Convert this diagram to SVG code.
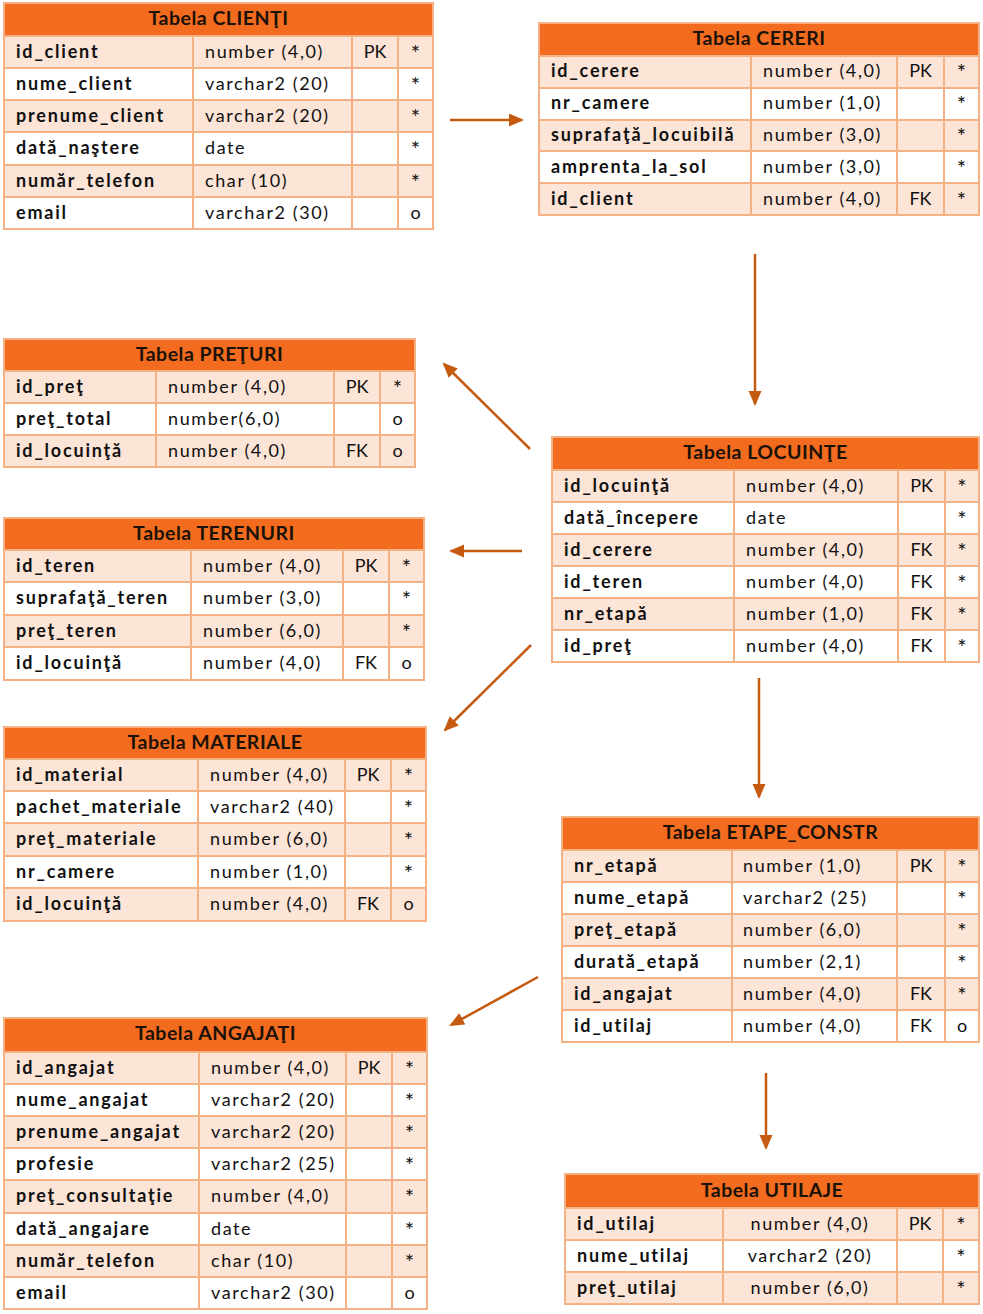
<svg xmlns="http://www.w3.org/2000/svg" width="983" height="1314" viewBox="0 0 983 1314">
<style>
.hd{fill:#F26B1F}
.o{fill:#FCE4D6}
.w{fill:#FFFFFF}
.ln{stroke:#F4B183;stroke-width:2;fill:none}
text{font-family:Lato,"Liberation Sans",sans-serif;font-size:18px;letter-spacing:1.6px;fill:#111}
.b{font-weight:bold;letter-spacing:1.8px}
.c{text-anchor:middle;letter-spacing:0}
.s{font-size:22px}
.h{font-size:19.5px;font-weight:bold;letter-spacing:0.5px;text-anchor:middle;fill:#1a1208}
.ar{stroke:#C55A11;stroke-width:2.5;fill:none;marker-end:url(#ah)}
</style>
<defs>
<marker id="ah" markerUnits="userSpaceOnUse" markerWidth="16" markerHeight="14" refX="13" refY="6.5" orient="auto">
<path d="M0,0 L15,6.5 L0,13 z" fill="#C55A11"/>
</marker>
</defs>
<rect width="983" height="1314" fill="#fff"/>

<g id="clienti">
<rect class="hd" x="4" y="3" width="429" height="33"/>
<rect class="o" x="4" y="36" width="429" height="32"/>
<rect class="w" x="4" y="68" width="429" height="32"/>
<rect class="o" x="4" y="100" width="429" height="32"/>
<rect class="w" x="4" y="132" width="429" height="33"/>
<rect class="o" x="4" y="165" width="429" height="32"/>
<rect class="w" x="4" y="197" width="429" height="32"/>
<path class="ln" d="M4,3H433V229H4Z M4,36H433 M4,68H433 M4,100H433 M4,132H433 M4,165H433 M4,197H433 M193,36V229 M352,36V229 M398,36V229"/>
<text class="h" x="218.5" y="25">Tabela CLIENŢI</text>
<text class="b" x="16" y="58">id_client</text><text x="205" y="58">number (4,0)</text><text class="c" x="375" y="58">PK</text><text class="c s" x="415.5" y="61">*</text>
<text class="b" x="16" y="90">nume_client</text><text x="205" y="90">varchar2 (20)</text><text class="c s" x="415.5" y="93">*</text>
<text class="b" x="16" y="122">prenume_client</text><text x="205" y="122">varchar2 (20)</text><text class="c s" x="415.5" y="125">*</text>
<text class="b" x="16" y="154">dată_naştere</text><text x="205" y="154">date</text><text class="c s" x="415.5" y="157">*</text>
<text class="b" x="16" y="187">număr_telefon</text><text x="205" y="187">char (10)</text><text class="c s" x="415.5" y="190">*</text>
<text class="b" x="16" y="219">email</text><text x="205" y="219">varchar2 (30)</text><text class="c" x="415.5" y="219">o</text>
</g>

<g id="cereri">
<rect class="hd" x="539" y="23" width="440" height="33"/>
<rect class="o" x="539" y="56" width="440" height="32"/>
<rect class="w" x="539" y="88" width="440" height="32"/>
<rect class="o" x="539" y="120" width="440" height="31"/>
<rect class="w" x="539" y="151" width="440" height="32"/>
<rect class="o" x="539" y="183" width="440" height="32"/>
<path class="ln" d="M539,23H979V215H539Z M539,56H979 M539,88H979 M539,120H979 M539,151H979 M539,183H979 M751,56V215 M897,56V215 M944,56V215"/>
<text class="h" x="759" y="45">Tabela CERERI</text>
<text class="b" x="551" y="77">id_cerere</text><text x="763" y="77">number (4,0)</text><text class="c" x="920.5" y="77">PK</text><text class="c s" x="961.5" y="80">*</text>
<text class="b" x="551" y="109">nr_camere</text><text x="763" y="109">number (1,0)</text><text class="c s" x="961.5" y="112">*</text>
<text class="b" x="551" y="141">suprafaţă_locuibilă</text><text x="763" y="141">number (3,0)</text><text class="c s" x="961.5" y="144">*</text>
<text class="b" x="551" y="173">amprenta_la_sol</text><text x="763" y="173">number (3,0)</text><text class="c s" x="961.5" y="176">*</text>
<text class="b" x="551" y="205">id_client</text><text x="763" y="205">number (4,0)</text><text class="c" x="920.5" y="205">FK</text><text class="c s" x="961.5" y="208">*</text>
</g>

<g id="preturi">
<rect class="hd" x="4" y="339" width="411" height="32"/>
<rect class="o" x="4" y="371" width="411" height="32"/>
<rect class="w" x="4" y="403" width="411" height="32"/>
<rect class="o" x="4" y="435" width="411" height="32"/>
<path class="ln" d="M4,339H415V467H4Z M4,371H415 M4,403H415 M4,435H415 M156,371V467 M334,371V467 M380,371V467"/>
<text class="h" x="209.5" y="361">Tabela PREŢURI</text>
<text class="b" x="16" y="393">id_preţ</text><text x="168" y="393">number (4,0)</text><text class="c" x="357" y="393">PK</text><text class="c s" x="397.5" y="396">*</text>
<text class="b" x="16" y="425">preţ_total</text><text x="168" y="425">number(6,0)</text><text class="c" x="397.5" y="425">o</text>
<text class="b" x="16" y="457">id_locuinţă</text><text x="168" y="457">number (4,0)</text><text class="c" x="357" y="457">FK</text><text class="c" x="397.5" y="457">o</text>
</g>

<g id="terenuri">
<rect class="hd" x="4" y="518" width="420" height="32"/>
<rect class="o" x="4" y="550" width="420" height="32"/>
<rect class="w" x="4" y="582" width="420" height="33"/>
<rect class="o" x="4" y="615" width="420" height="32"/>
<rect class="w" x="4" y="647" width="420" height="33"/>
<path class="ln" d="M4,518H424V680H4Z M4,550H424 M4,582H424 M4,615H424 M4,647H424 M191,550V680 M343,550V680 M389,550V680"/>
<text class="h" x="214" y="540">Tabela TERENURI</text>
<text class="b" x="16" y="572">id_teren</text><text x="203" y="572">number (4,0)</text><text class="c" x="366" y="572">PK</text><text class="c s" x="406.5" y="575">*</text>
<text class="b" x="16" y="604">suprafaţă_teren</text><text x="203" y="604">number (3,0)</text><text class="c s" x="406.5" y="607">*</text>
<text class="b" x="16" y="637">preţ_teren</text><text x="203" y="637">number (6,0)</text><text class="c s" x="406.5" y="640">*</text>
<text class="b" x="16" y="669">id_locuinţă</text><text x="203" y="669">number (4,0)</text><text class="c" x="366" y="669">FK</text><text class="c" x="406.5" y="669">o</text>
</g>

<g id="materiale">
<rect class="hd" x="4" y="727" width="422" height="32"/>
<rect class="o" x="4" y="759" width="422" height="32"/>
<rect class="w" x="4" y="791" width="422" height="32"/>
<rect class="o" x="4" y="823" width="422" height="33"/>
<rect class="w" x="4" y="856" width="422" height="32"/>
<rect class="o" x="4" y="888" width="422" height="33"/>
<path class="ln" d="M4,727H426V921H4Z M4,759H426 M4,791H426 M4,823H426 M4,856H426 M4,888H426 M198,759V921 M345,759V921 M391,759V921"/>
<text class="h" x="215" y="749">Tabela MATERIALE</text>
<text class="b" x="16" y="781">id_material</text><text x="210" y="781">number (4,0)</text><text class="c" x="368" y="781">PK</text><text class="c s" x="408.5" y="784">*</text>
<text class="b" x="16" y="813">pachet_materiale</text><text x="210" y="813">varchar2 (40)</text><text class="c s" x="408.5" y="816">*</text>
<text class="b" x="16" y="845">preţ_materiale</text><text x="210" y="845">number (6,0)</text><text class="c s" x="408.5" y="848">*</text>
<text class="b" x="16" y="878">nr_camere</text><text x="210" y="878">number (1,0)</text><text class="c s" x="408.5" y="881">*</text>
<text class="b" x="16" y="910">id_locuinţă</text><text x="210" y="910">number (4,0)</text><text class="c" x="368" y="910">FK</text><text class="c" x="408.5" y="910">o</text>
</g>

<g id="angajati">
<rect class="hd" x="4" y="1018" width="423" height="34"/>
<rect class="o" x="4" y="1052" width="423" height="32"/>
<rect class="w" x="4" y="1084" width="423" height="32"/>
<rect class="o" x="4" y="1116" width="423" height="32"/>
<rect class="w" x="4" y="1148" width="423" height="32"/>
<rect class="o" x="4" y="1180" width="423" height="33"/>
<rect class="w" x="4" y="1213" width="423" height="32"/>
<rect class="o" x="4" y="1245" width="423" height="32"/>
<rect class="w" x="4" y="1277" width="423" height="32"/>
<path class="ln" d="M4,1018H427V1309H4Z M4,1052H427 M4,1084H427 M4,1116H427 M4,1148H427 M4,1180H427 M4,1213H427 M4,1245H427 M4,1277H427 M199,1052V1309 M346,1052V1309 M392,1052V1309"/>
<text class="h" x="215.5" y="1040">Tabela ANGAJAŢI</text>
<text class="b" x="16" y="1074">id_angajat</text><text x="211" y="1074">number (4,0)</text><text class="c" x="369" y="1074">PK</text><text class="c s" x="409.5" y="1077">*</text>
<text class="b" x="16" y="1106">nume_angajat</text><text x="211" y="1106">varchar2 (20)</text><text class="c s" x="409.5" y="1109">*</text>
<text class="b" x="16" y="1138">prenume_angajat</text><text x="211" y="1138">varchar2 (20)</text><text class="c s" x="409.5" y="1141">*</text>
<text class="b" x="16" y="1170">profesie</text><text x="211" y="1170">varchar2 (25)</text><text class="c s" x="409.5" y="1173">*</text>
<text class="b" x="16" y="1202">preţ_consultaţie</text><text x="211" y="1202">number (4,0)</text><text class="c s" x="409.5" y="1205">*</text>
<text class="b" x="16" y="1235">dată_angajare</text><text x="211" y="1235">date</text><text class="c s" x="409.5" y="1238">*</text>
<text class="b" x="16" y="1267">număr_telefon</text><text x="211" y="1267">char (10)</text><text class="c s" x="409.5" y="1270">*</text>
<text class="b" x="16" y="1299">email</text><text x="211" y="1299">varchar2 (30)</text><text class="c" x="409.5" y="1299">o</text>
</g>

<g id="locuinte">
<rect class="hd" x="552" y="437" width="427" height="33"/>
<rect class="o" x="552" y="470" width="427" height="32"/>
<rect class="w" x="552" y="502" width="427" height="32"/>
<rect class="o" x="552" y="534" width="427" height="32"/>
<rect class="w" x="552" y="566" width="427" height="32"/>
<rect class="o" x="552" y="598" width="427" height="32"/>
<rect class="w" x="552" y="630" width="427" height="32"/>
<path class="ln" d="M552,437H979V662H552Z M552,470H979 M552,502H979 M552,534H979 M552,566H979 M552,598H979 M552,630H979 M734,470V662 M898,470V662 M945,470V662"/>
<text class="h" x="765.5" y="459">Tabela LOCUINŢE</text>
<text class="b" x="564" y="492">id_locuinţă</text><text x="746" y="492">number (4,0)</text><text class="c" x="921.5" y="492">PK</text><text class="c s" x="962" y="495">*</text>
<text class="b" x="564" y="524">dată_începere</text><text x="746" y="524">date</text><text class="c s" x="962" y="527">*</text>
<text class="b" x="564" y="556">id_cerere</text><text x="746" y="556">number (4,0)</text><text class="c" x="921.5" y="556">FK</text><text class="c s" x="962" y="559">*</text>
<text class="b" x="564" y="588">id_teren</text><text x="746" y="588">number (4,0)</text><text class="c" x="921.5" y="588">FK</text><text class="c s" x="962" y="591">*</text>
<text class="b" x="564" y="620">nr_etapă</text><text x="746" y="620">number (1,0)</text><text class="c" x="921.5" y="620">FK</text><text class="c s" x="962" y="623">*</text>
<text class="b" x="564" y="652">id_preţ</text><text x="746" y="652">number (4,0)</text><text class="c" x="921.5" y="652">FK</text><text class="c s" x="962" y="655">*</text>
</g>

<g id="etape_constr">
<rect class="hd" x="562" y="817" width="417" height="33"/>
<rect class="o" x="562" y="850" width="417" height="32"/>
<rect class="w" x="562" y="882" width="417" height="32"/>
<rect class="o" x="562" y="914" width="417" height="32"/>
<rect class="w" x="562" y="946" width="417" height="32"/>
<rect class="o" x="562" y="978" width="417" height="32"/>
<rect class="w" x="562" y="1010" width="417" height="32"/>
<path class="ln" d="M562,817H979V1042H562Z M562,850H979 M562,882H979 M562,914H979 M562,946H979 M562,978H979 M562,1010H979 M732,850V1042 M897,850V1042 M945,850V1042"/>
<text class="h" x="770.5" y="839">Tabela ETAPE_CONSTR</text>
<text class="b" x="574" y="872">nr_etapă</text><text x="743" y="872">number (1,0)</text><text class="c" x="921" y="872">PK</text><text class="c s" x="962" y="875">*</text>
<text class="b" x="574" y="904">nume_etapă</text><text x="743" y="904">varchar2 (25)</text><text class="c s" x="962" y="907">*</text>
<text class="b" x="574" y="936">preţ_etapă</text><text x="743" y="936">number (6,0)</text><text class="c s" x="962" y="939">*</text>
<text class="b" x="574" y="968">durată_etapă</text><text x="743" y="968">number (2,1)</text><text class="c s" x="962" y="971">*</text>
<text class="b" x="574" y="1000">id_angajat</text><text x="743" y="1000">number (4,0)</text><text class="c" x="921" y="1000">FK</text><text class="c s" x="962" y="1003">*</text>
<text class="b" x="574" y="1032">id_utilaj</text><text x="743" y="1032">number (4,0)</text><text class="c" x="921" y="1032">FK</text><text class="c" x="962" y="1032">o</text>
</g>

<g id="utilaje">
<rect class="hd" x="565" y="1174" width="414" height="34"/>
<rect class="o" x="565" y="1208" width="414" height="32"/>
<rect class="w" x="565" y="1240" width="414" height="32"/>
<rect class="o" x="565" y="1272" width="414" height="32"/>
<path class="ln" d="M565,1174H979V1304H565Z M565,1208H979 M565,1240H979 M565,1272H979 M723,1208V1304 M897,1208V1304 M943,1208V1304"/>
<text class="h" x="772" y="1197">Tabela UTILAJE</text>
<text class="b" x="577" y="1230">id_utilaj</text><text class="c" style="letter-spacing:1.6px" x="810" y="1230">number (4,0)</text><text class="c" x="920" y="1230">PK</text><text class="c s" x="961" y="1233">*</text>
<text class="b" x="577" y="1262">nume_utilaj</text><text class="c" style="letter-spacing:1.6px" x="810" y="1262">varchar2 (20)</text><text class="c s" x="961" y="1265">*</text>
<text class="b" x="577" y="1294">preţ_utilaj</text><text class="c" style="letter-spacing:1.6px" x="810" y="1294">number (6,0)</text><text class="c s" x="961" y="1297">*</text>
</g>

<g id="connectors">
<line class="ar" x1="450" y1="120" x2="522" y2="120"/>
<line class="ar" x1="755" y1="254" x2="755" y2="404"/>
<line class="ar" x1="530" y1="449" x2="444" y2="364"/>
<line class="ar" x1="522" y1="551" x2="451" y2="551"/>
<line class="ar" x1="531" y1="645" x2="445" y2="730"/>
<line class="ar" x1="759" y1="678" x2="759" y2="797"/>
<line class="ar" x1="538" y1="977" x2="451" y2="1025"/>
<line class="ar" x1="766" y1="1073" x2="766" y2="1148"/>
</g>
</svg>
